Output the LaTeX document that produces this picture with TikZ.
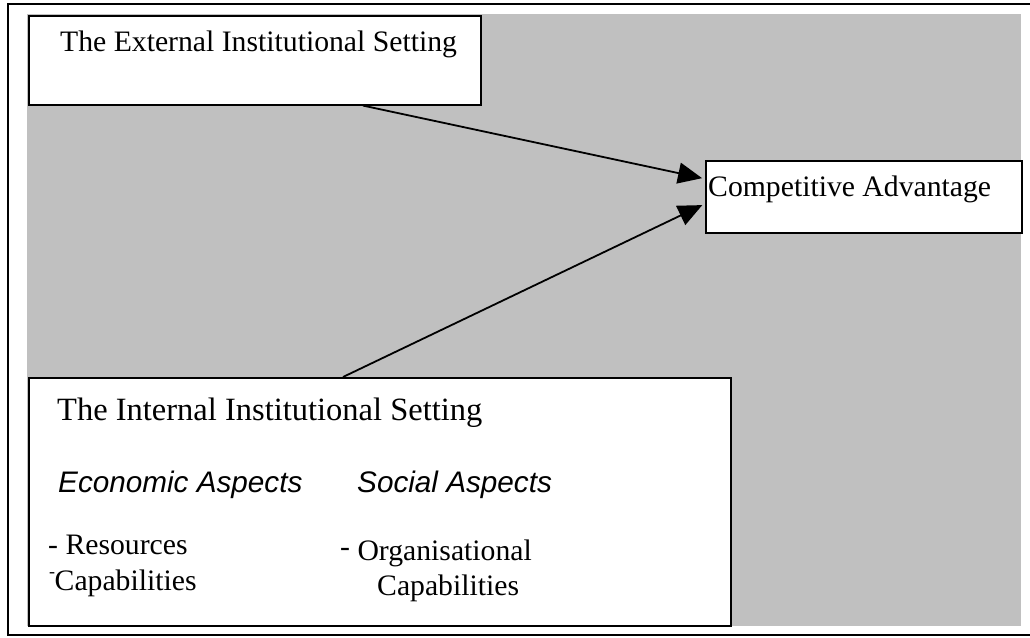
\documentclass[tikz,border=0pt]{standalone}
\usepackage{fontspec}
\setmainfont{Liberation Serif}
\setsansfont{Liberation Sans}
\usetikzlibrary{arrows.meta}
\definecolor{panelgray}{RGB}{192,192,192}
\begin{document}
\begin{tikzpicture}[x=1bp,y=-1bp,
  box/.style={draw=black, fill=white, line width=1.6bp, inner sep=0pt, anchor=north west},
  lbl/.style={anchor=base west, inner sep=0pt, font=\fontsize{29.7bp}{36bp}\selectfont},
  title/.style={anchor=base west, inner sep=0pt, font=\fontsize{32.5bp}{39bp}\selectfont},
  aspect/.style={anchor=base west, inner sep=0pt, font=\fontsize{29.7bp}{36bp}\selectfont\sffamily\itshape},
  link/.style={line width=1.8bp, shorten >=3bp, -{Triangle[length=24bp,width=21bp]}}]
  \useasboundingbox (0,0) rectangle (1030,638);
  \clip (0,0) rectangle (1030,638);
  % grey panel and outer frame
  \fill[panelgray] (27,14) rectangle (1021,626);
  \draw[line width=2.4bp] (8,4) rectangle (1040,635);
  % boxes
  \node[box, minimum width=452bp, minimum height=89bp] (ext) at (28,15) {};
  \node[box, minimum width=316bp, minimum height=72bp] (adv) at (705,160) {};
  \node[box, minimum width=702bp, minimum height=248bp] (int) at (28,377) {};
  % texts
  \node[lbl] (extT) at (60,52) {The External Institutional Setting};
  \node[lbl] (advT) at (708,197) {Competitive Advantage};
  \node[title] (intT) at (57,420) {The Internal Institutional Setting};
  \node[aspect] (eco) at (58,492) {Economic Aspects};
  \node[aspect] (soc) at (357,492) {Social Aspects};
  \node[lbl] (res) at (48,554) {- Resources};
  \node[lbl] (capE) at (49,590) {\raisebox{0.42em}{\fontsize{18bp}{20bp}\selectfont -}\kern-0.5bp Capabilities};
  \node[lbl] (org) at (340,560) {\raisebox{0.13em}{-} Organisational};
  \node[lbl] (capS) at (377,595) {Capabilities};
  % connectors
  \draw[link] ([xshift=335bp]ext.south west) -- ([yshift=18bp]adv.west);
  \draw[link] ([xshift=315bp]int.north west) -- ([yshift=-7bp]adv.west);
\end{tikzpicture}
\end{document}
